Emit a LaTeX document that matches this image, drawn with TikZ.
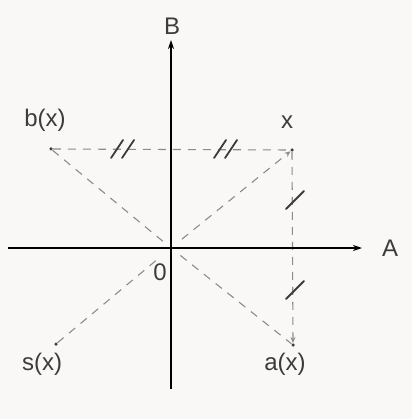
\documentclass[tikz,border=0pt]{standalone}
\usepackage{fontspec}
\setmainfont{Liberation Sans}
\usetikzlibrary{arrows.meta,calc}
\definecolor{bgc}{RGB}{250,248,246}
\definecolor{ink}{RGB}{60,60,60}
\definecolor{guidec}{RGB}{140,140,140}
\begin{document}
\begin{tikzpicture}[x=1pt,y=-1pt,
  axis/.style={line width=2.6pt, line cap=butt, -{Stealth[length=9pt,width=6pt]}},
  guide/.style={draw=guidec, line width=1.1pt, dash pattern=on 8pt off 7pt},
  gtip/.style={-{Stealth[length=6pt,width=5pt]}},
  tickmark/.style={draw=ink, line width=1.8pt, line cap=round},
  lbl/.style={text=ink, font=\fontsize{24}{28}\selectfont, inner sep=0pt},
  pt/.style={circle, fill=ink, inner sep=0pt, minimum size=3.5pt}]
\fill[bgc] (0,0) rectangle (412,419);
\useasboundingbox (0,0) rectangle (412,419);
% points
\coordinate (O) at (171,248);
\node[pt] (X)  at (292,150) {};
\node[pt] (BX) at (51,149) {};
\node[pt] (SX) at (56,344) {};
\node[pt] (AX) at (293,345) {};
% axes
\coordinate (Aw) at (8,248);
\coordinate (Ae) at (362,248);
\coordinate (Bs) at (171,389);
\coordinate (Bn) at (171,40);
% dashed guides
\draw[guide] (BX) -- (X);
\draw[guide, gtip] (X) -- (AX);
\draw[guide, shorten >=10pt] (BX) -- (O);
\draw[guide, shorten >=16pt] (SX) -- (O);
\draw[guide, gtip, shorten <=14pt] (O) -- (X);
\draw[guide, shorten <=12pt] (O) -- (AX);
% axes
\draw[axis] (Aw) -- (Ae);
\draw[axis] (Bs) -- (Bn);
% tick marks
\foreach \cx in {117,128,220,231}
  \draw[tickmark] ($(\cx,149)+(-6,9)$) -- ($(\cx,149)+(6,-9)$);
\foreach \cy in {200,290}
  \draw[tickmark] ($(295,\cy)+(-9,9)$) -- ($(295,\cy)+(9,-9)$);
% labels
\node[lbl] (Alab) at (390,248) {A};
\node[lbl] (Blab) at (172,26) {B};
\node[lbl] (xlab) at (287,122) {x};
\node[lbl] (bxlab) at (45,120) {b(x)};
\node[lbl] (sxlab) at (42,364) {s(x)};
\node[lbl] (axlab) at (285,364) {a(x)};
\node[lbl] (zero) at (160,272) {0};
\end{tikzpicture}
\end{document}
